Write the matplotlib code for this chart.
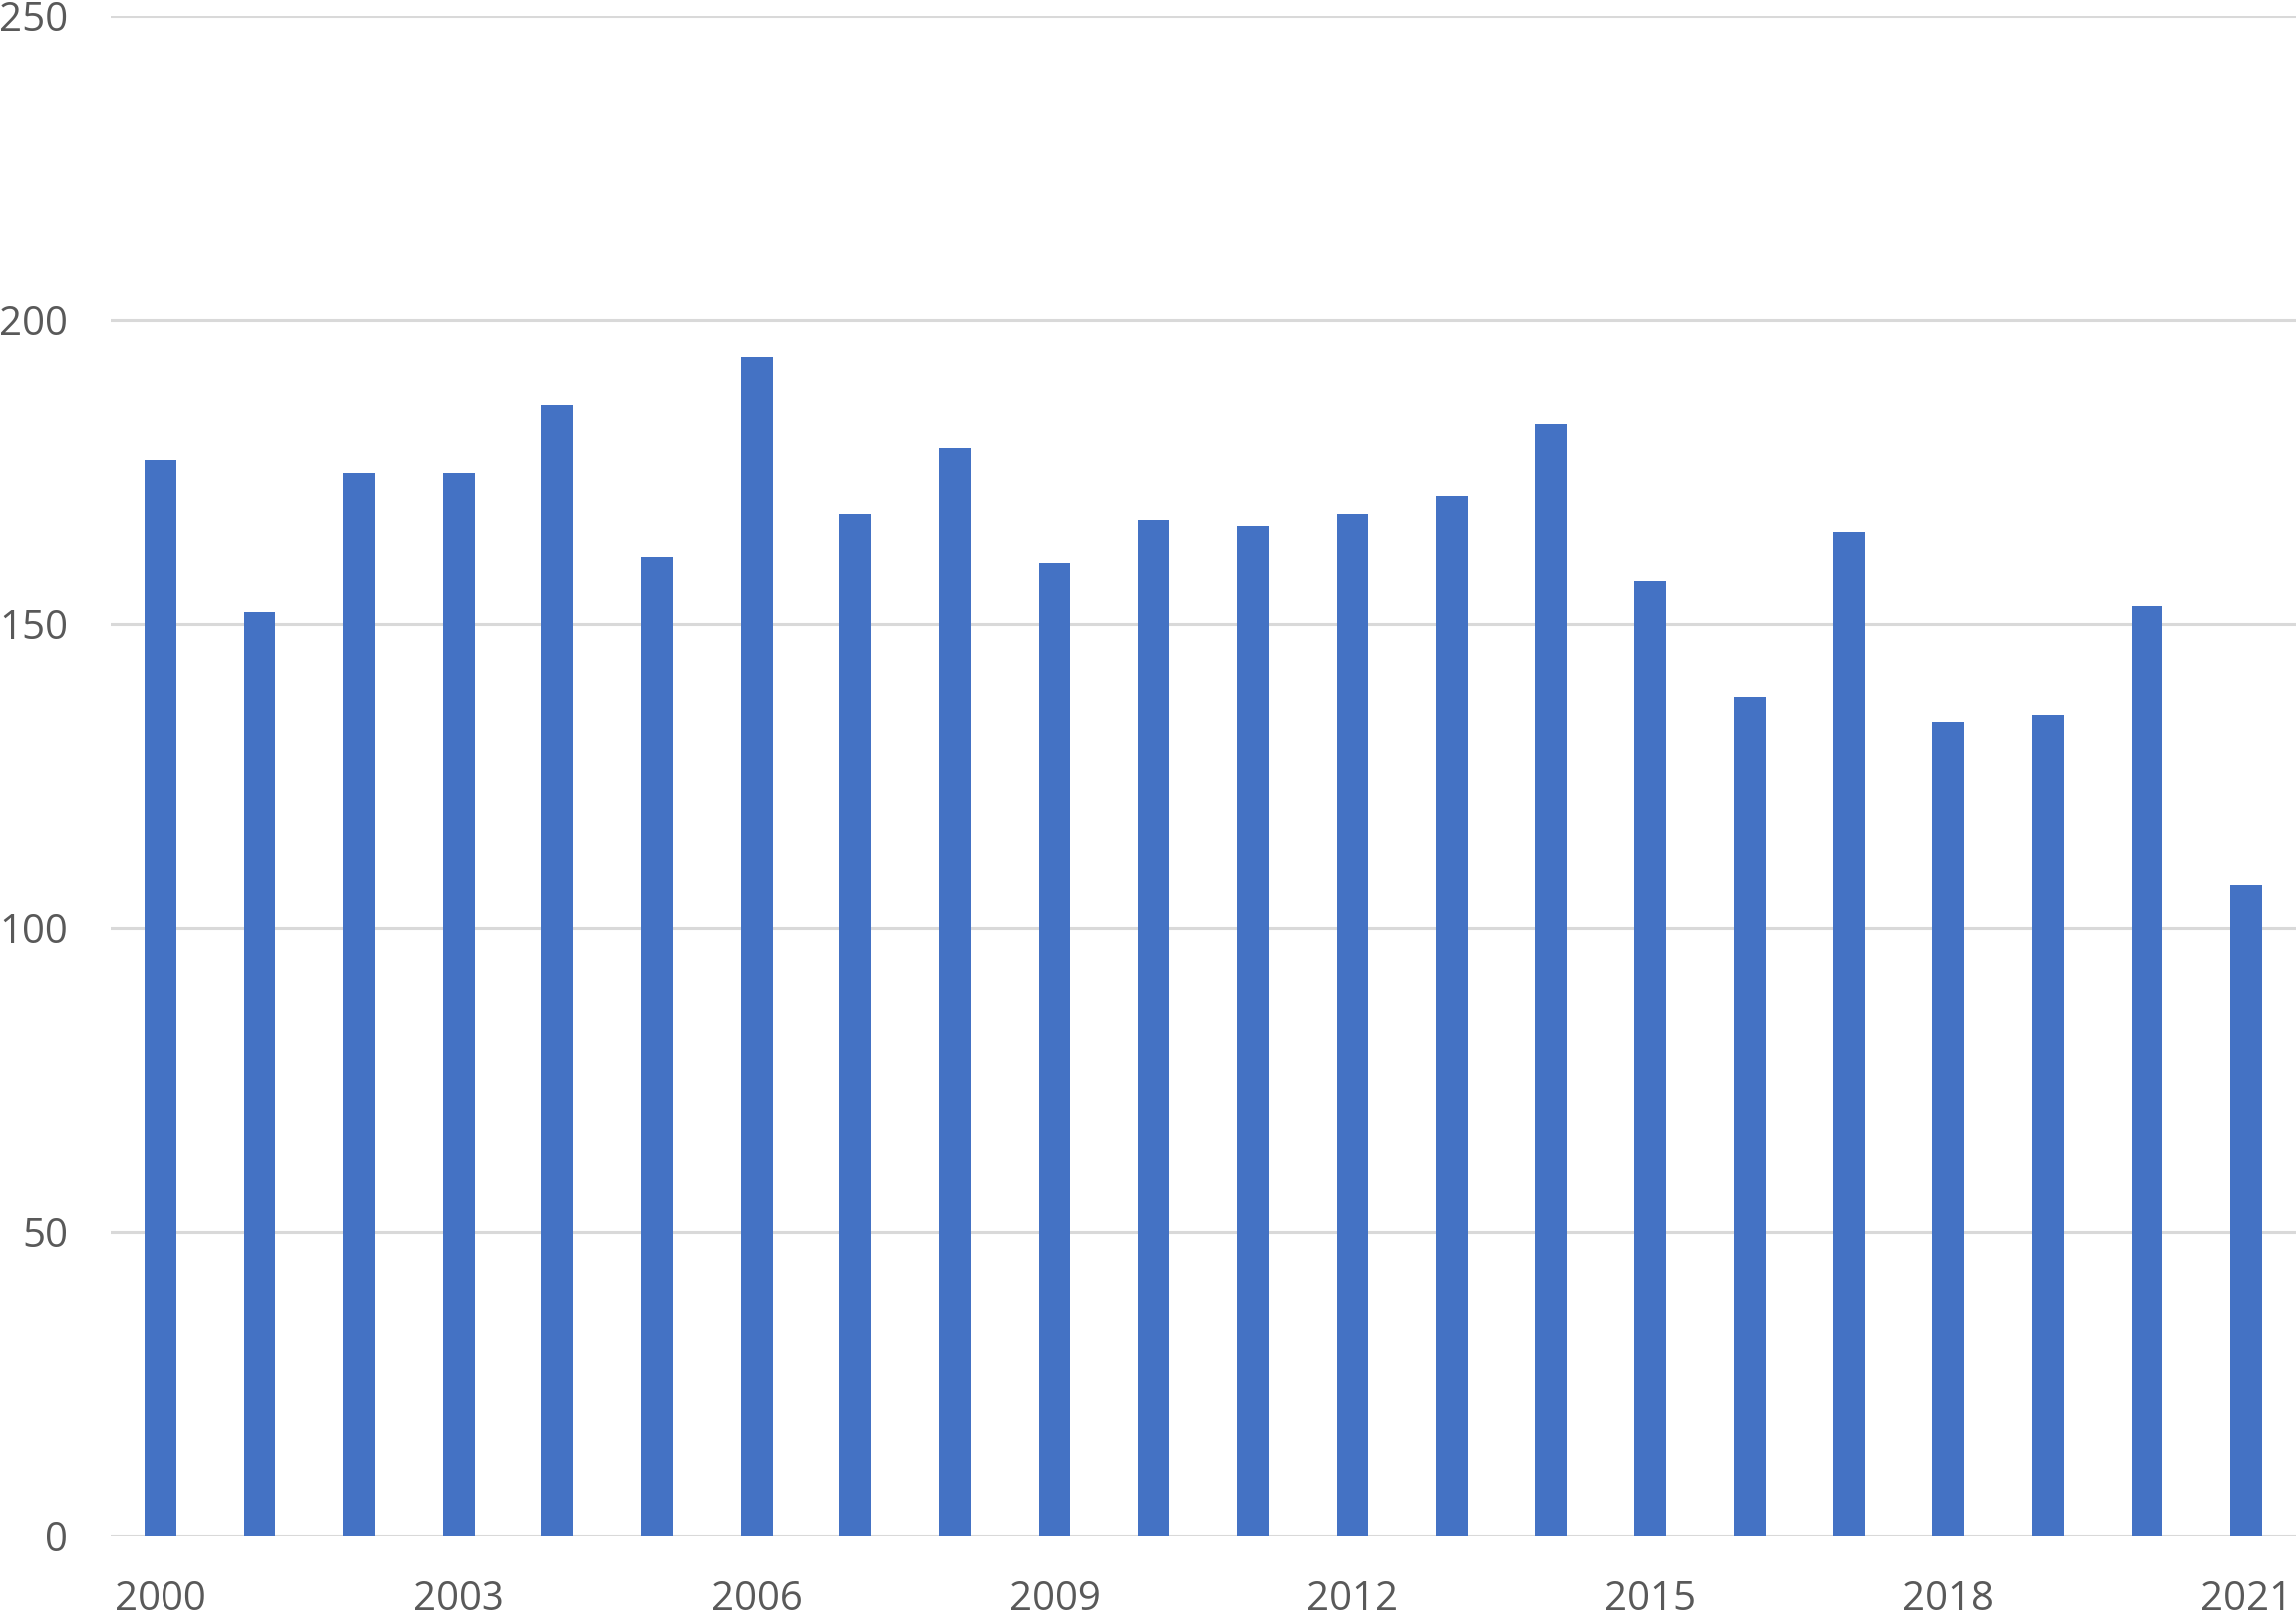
import matplotlib
matplotlib.use("Agg")
import matplotlib.pyplot as plt
import numpy as np

years = list(range(2000, 2022))
values = [177, 152, 175, 175, 186, 161, 194, 168, 179, 160, 167, 166,
          168, 171, 183, 157, 138, 165, 134, 135, 153, 107]
x_tick_years = [2000, 2003, 2006, 2009, 2012, 2015, 2018, 2021]
y_ticks = [0, 50, 100, 150, 200, 250]

plt.rcParams['font.family'] = ['Open Sans', 'DejaVu Sans']

W, H = 2303, 1616
fig = plt.figure(figsize=(W / 100, H / 100), dpi=100)
ax = fig.add_axes([111 / W, 75 / H, (W - 111) / W, 1525 / H])

pos = np.arange(len(years))
ax.bar(pos, values, width=0.32, color='#4472C4', zorder=3)

ax.set_xlim(-0.5, len(years) - 0.5)
ax.set_ylim(0, 250)
ax.set_yticks(y_ticks)
ax.set_yticklabels([str(v) for v in y_ticks])
ax.set_xticks([years.index(y) for y in x_tick_years])
ax.set_xticklabels([str(y) for y in x_tick_years])

ax.grid(axis='y', color='#D9D9D9', linewidth=2.2, zorder=0)
ax.set_axisbelow(True)
for s in ax.spines.values():
    s.set_visible(False)
ax.tick_params(axis='both', length=0, labelsize=29, labelcolor='#595959')
ax.tick_params(axis='y', pad=31)
ax.tick_params(axis='x', pad=31)

fig.savefig("out.png", dpi=100)
